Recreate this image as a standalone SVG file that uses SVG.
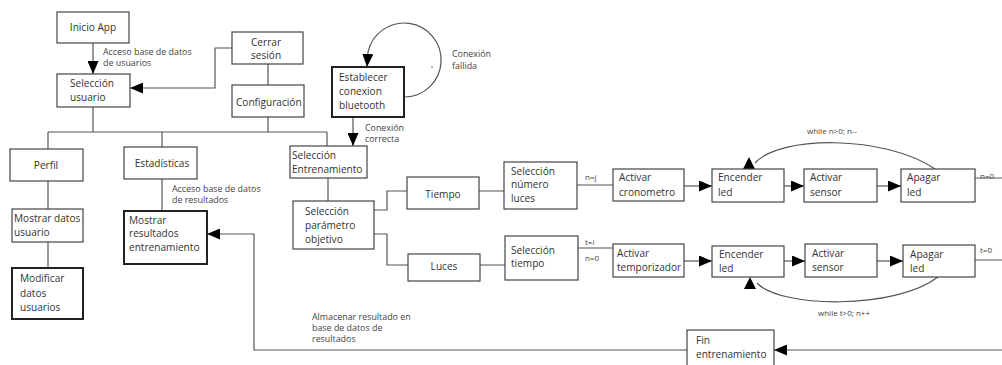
<svg xmlns="http://www.w3.org/2000/svg" width="1002" height="365" viewBox="0 0 1002 365">
<style>
.b{fill:#fff;stroke:#444;stroke-width:1.2}
.bt{fill:#fff;stroke:#222;stroke-width:2}
.t{font-family:"Open Sans","DejaVu Sans",sans-serif;font-size:10.1px;fill:#333}
.c{text-anchor:middle}
.l{font-family:"Open Sans","DejaVu Sans",sans-serif;font-size:8.9px;fill:#444}
.s{font-family:"Open Sans","DejaVu Sans",sans-serif;font-size:8px;fill:#444}
.w{fill:none;stroke:#555;stroke-width:1.2}
.a{marker-end:url(#ar)}
.ah{fill:#000}
</style>
<defs>
<marker id="ar" viewBox="0 0 13 11" refX="13" refY="5.5" markerWidth="13" markerHeight="11" markerUnits="userSpaceOnUse" orient="auto">
<path d="M0,0 L13,5.5 L0,11 z" fill="#000"/>
</marker>
</defs>
<g id="connectors">
<path class="w a" d="M93,43 V74"/>
<path class="w a" d="M232,48 H215 V88 H130"/>
<path class="w" d="M268,64 V85"/>
<path class="w" d="M93,107 V132 M268,117 V132 M48,132 H327 M48,132 V149 M162,132 V147 M327,132 V146"/>
<path class="w a" d="M353,117 V146"/>
<path class="w a" d="M405,97 A37,37 0 1 0 368,52 L367,67"/>
<circle cx="432" cy="67" r="0.8" fill="#555"/>
<path class="w" d="M48,181 V209 M48,242 V268 M162,179 V211"/>
<path class="w a" d="M687,350 H254 V234 H207"/>
<path class="w a" d="M1002,350 H774"/>
<path class="w" d="M328,178 V201 M374,210 H387 V191 H407 M479,191 H504 M374,234 H387 V265 H408 M480,265 H505"/>
<path class="w" d="M577,185 H613 M578,248 H613 M975,178 H1002 M975,260 H1002"/>
<path class="w a" d="M684,186 H712"/>
<path class="w a" d="M784,186 H804"/>
<path class="w a" d="M877,186 H901"/>
<path class="w a" d="M684,261 H712"/>
<path class="w a" d="M784,261 H805"/>
<path class="w a" d="M877,261 H903"/>
<path class="w" d="M935,169 C885,135 780,135 755,163"/>
<polygon class="ah" points="749,157 743,169 755,169"/>
<path class="w" d="M938,277 C895,310 780,308 757,283"/>
<polygon class="ah" points="750,277 744,289 756,289"/>
<text class="l" x="103" y="55">Acceso base de datos</text>
<text class="l" x="103" y="66">de usuarios</text>
<text class="l" x="452" y="57">Conexión</text>
<text class="l" x="452" y="69">fallida</text>
<text class="l" x="365" y="131">Conexión</text>
<text class="l" x="365" y="142">correcta</text>
<text class="l" x="172" y="192">Acceso base de datos</text>
<text class="l" x="172" y="203">de resultados</text>
<text class="s" x="585" y="180">n=j</text>
<text class="s" x="585" y="245">t=i</text>
<text class="s" x="585" y="261">n=0</text>
<text class="s" x="980" y="179">n=0</text>
<text class="s" x="980" y="253">t=0</text>
<text class="s c" x="832" y="134">while n&gt;0; n--</text>
<text class="s c" x="844" y="316">while t&gt;0; n++</text>
<text class="l" x="312" y="320">Almacenar resultado en</text>
<text class="l" x="312" y="331">base de datos de</text>
<text class="l" x="312" y="342">resultados</text>
</g>
<g id="inicio"><rect class="b" x="57" y="12" width="72" height="31"/><text class="t c" x="93" y="31">Inicio App</text></g>
<g id="seluser"><rect class="b" x="57" y="74" width="73" height="33"/><text class="t" x="70" y="87">Selección</text><text class="t" x="70" y="101">usuario</text></g>
<g id="cerrar"><rect class="b" x="232" y="32" width="71" height="32"/><text class="t" x="251" y="46">Cerrar</text><text class="t" x="251" y="59">sesión</text></g>
<g id="config"><rect class="b" x="232" y="85" width="72" height="32"/><text class="t" x="236" y="106">Configuración</text></g>
<g id="bluetooth"><rect class="bt" x="332" y="67" width="72" height="50"/><text class="t" x="339" y="81">Establecer</text><text class="t" x="339" y="95">conexion</text><text class="t" x="339" y="109">bluetooth</text></g>
<g id="perfil"><rect class="b" x="10" y="149" width="73" height="32"/><text class="t c" x="46" y="169">Perfil</text></g>
<g id="estad"><rect class="b" x="124" y="147" width="73" height="32"/><text class="t c" x="162" y="167">Estadísticas</text></g>
<g id="mostrardatos"><rect class="b" x="12" y="209" width="71" height="33"/><text class="t" x="14" y="222">Mostrar datos</text><text class="t" x="14" y="236">usuario</text></g>
<g id="modificar"><rect class="bt" x="12" y="268" width="71" height="51"/><text class="t" x="20" y="282">Modificar</text><text class="t" x="20" y="297">datos</text><text class="t" x="20" y="311">usuarios</text></g>
<g id="mostrarres"><rect class="bt" x="124" y="211" width="83" height="53"/><text class="t" x="129" y="224">Mostrar</text><text class="t" x="129" y="237">resultados</text><text class="t" x="129" y="251">entrenamiento</text></g>
<g id="selent"><rect class="b" x="290" y="146" width="77" height="32"/><text class="t" x="292" y="159">Selección</text><text class="t" x="292" y="173">Entrenamiento</text></g>
<g id="selparam"><rect class="b" x="293" y="201" width="81" height="48"/><text class="t" x="305" y="215">Selección</text><text class="t" x="305" y="229">parámetro</text><text class="t" x="305" y="243">objetivo</text></g>
<g id="tiempo"><rect class="b" x="407" y="177" width="72" height="32"/><text class="t c" x="443" y="198">Tiempo</text></g>
<g id="selnum"><rect class="b" x="504" y="162" width="73" height="47"/><text class="t" x="511" y="175">Selección</text><text class="t" x="511" y="188">número</text><text class="t" x="511" y="202">luces</text></g>
<g id="luces"><rect class="b" x="408" y="254" width="72" height="27"/><text class="t c" x="444" y="270">Luces</text></g>
<g id="seltiempo"><rect class="b" x="505" y="236" width="73" height="44"/><text class="t" x="511" y="254">Selección</text><text class="t" x="511" y="267">tiempo</text></g>
<g id="actcrono"><rect class="b" x="613" y="169" width="71" height="32"/><text class="t" x="619" y="181">Activar</text><text class="t" x="619" y="196">cronometro</text></g>
<g id="encender1"><rect class="b" x="712" y="169" width="72" height="33"/><text class="t" x="718" y="181">Encender</text><text class="t" x="718" y="196">led</text></g>
<g id="activar1"><rect class="b" x="804" y="169" width="73" height="33"/><text class="t" x="810" y="181">Activar</text><text class="t" x="810" y="196">sensor</text></g>
<g id="apagar1"><rect class="b" x="901" y="169" width="74" height="33"/><text class="t" x="907" y="181">Apagar</text><text class="t" x="907" y="196">led</text></g>
<g id="acttemp"><rect class="b" x="613" y="244" width="71" height="33"/><text class="t" x="617" y="257">Activar</text><text class="t" x="617" y="271">temporizador</text></g>
<g id="encender2"><rect class="b" x="712" y="246" width="72" height="31"/><text class="t" x="719" y="258">Encender</text><text class="t" x="719" y="272">led</text></g>
<g id="activar2"><rect class="b" x="805" y="244" width="72" height="33"/><text class="t" x="812" y="257">Activar</text><text class="t" x="812" y="271">sensor</text></g>
<g id="apagar2"><rect class="b" x="903" y="245" width="72" height="32"/><text class="t" x="910" y="258">Apagar</text><text class="t" x="910" y="272">led</text></g>
<g id="fin"><rect class="b" x="687" y="330" width="87" height="40"/><text class="t" x="696" y="344">Fin</text><text class="t" x="696" y="358">entrenamiento</text></g>
</svg>
